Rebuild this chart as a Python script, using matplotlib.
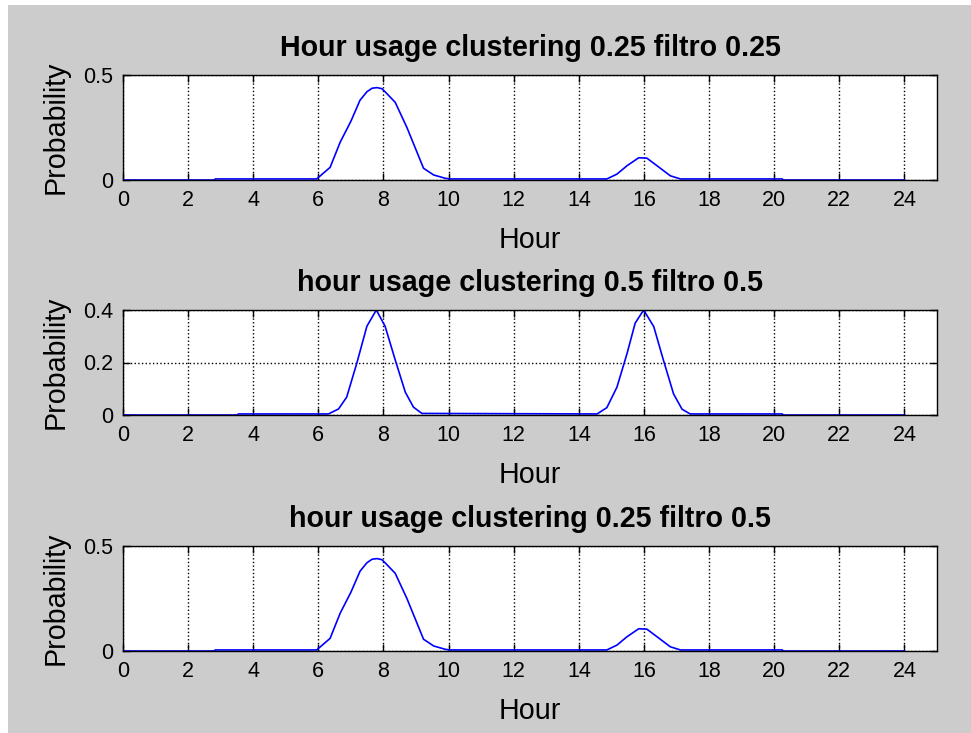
import matplotlib
matplotlib.use("Agg")
import matplotlib.pyplot as plt
from matplotlib.patches import Rectangle

plt.rcParams['font.family'] = ['Liberation Sans', 'DejaVu Sans']

# curve for clustering 0.25 (plots 1 and 3)
hours_a = [0, 2.8, 2.83, 5.95, 6.03, 6.36, 6.67, 7.0, 7.28, 7.49, 7.65, 7.8,
           7.95, 8.05, 8.36, 8.72, 9.23, 9.54, 9.9, 10.05, 14.86, 15.17, 15.48,
           15.84, 16.09, 16.4, 16.81, 17.12, 20.25, 20.27, 24]
prob_a = [0, 0, 0.005, 0.005, 0.016, 0.06, 0.18, 0.28, 0.38, 0.42, 0.437, 0.44,
          0.435, 0.42, 0.37, 0.25, 0.056, 0.024, 0.008, 0.005, 0.005, 0.028,
          0.068, 0.106, 0.104, 0.068, 0.02, 0.005, 0.005, 0, 0]

# curve for clustering 0.5 (plot 2)
hours_b = [0, 3.52, 3.54, 6.31, 6.62, 6.87, 7.18, 7.49, 7.78, 8.05, 8.36, 8.67,
           8.92, 9.18, 14.56, 14.86, 15.17, 15.48, 15.73, 15.99, 16.3, 16.6,
           16.91, 17.17, 17.42, 20.25, 20.27, 24]
prob_b = [0, 0, 0.004, 0.004, 0.023, 0.068, 0.197, 0.338, 0.4, 0.338, 0.21,
          0.087, 0.03, 0.006, 0.004, 0.028, 0.106, 0.234, 0.35, 0.4, 0.337,
          0.208, 0.08, 0.022, 0.004, 0.004, 0, 0]

titles = ["Hour usage clustering 0.25 filtro 0.25",
          "hour usage clustering 0.5 filtro 0.5",
          "hour usage clustering 0.25 filtro 0.5"]
series = [(hours_a, prob_a), (hours_b, prob_b), (hours_a, prob_a)]
ylims = [0.5, 0.4, 0.5]
yticks = [[0, 0.5], [0, 0.2, 0.4], [0, 0.5]]
ytick_labels = [["0", "0.5"], ["0", "0.2", "0.4"], ["0", "0.5"]]
xticks = list(range(0, 25, 2))

fig = plt.figure(figsize=(9.71, 7.33), dpi=100, facecolor='white')
fig.patches.append(Rectangle((8 / 971, 0), 1, 1 - 5 / 733, transform=fig.transFigure,
                             facecolor='#cccccc', edgecolor='none', zorder=-10))

tops = [75, 310, 546]
left, right = 123, 937
h = 105
for i in range(3):
    ax = fig.add_axes([left / 971, 1 - (tops[i] + h) / 733, (right - left) / 971, h / 733])
    ax.set_facecolor('white')
    x, y = series[i]
    ax.plot(x, y, color='#0000ff', lw=1.2)
    ax.set_xlim(0, 25)
    ax.set_ylim(0, ylims[i])
    ax.set_xticks(xticks)
    ax.set_yticks(yticks[i])
    ax.set_yticklabels(ytick_labels[i])
    ax.grid(True, color='black', linestyle=':', linewidth=1.0)
    ax.tick_params(direction='in', top=True, right=True, length=5, width=1,
                   labelsize=15.5, pad=7)
    for s in ax.spines.values():
        s.set_linewidth(1.0)
    ax.set_title(titles[i], fontsize=20.6, fontweight='bold', pad=14)
    ax.set_xlabel('Hour', fontsize=20.6, labelpad=11)
    ax.set_ylabel('Probability', fontsize=20.6, labelpad=10)

fig.savefig('out.png', dpi=100, facecolor=fig.get_facecolor())
